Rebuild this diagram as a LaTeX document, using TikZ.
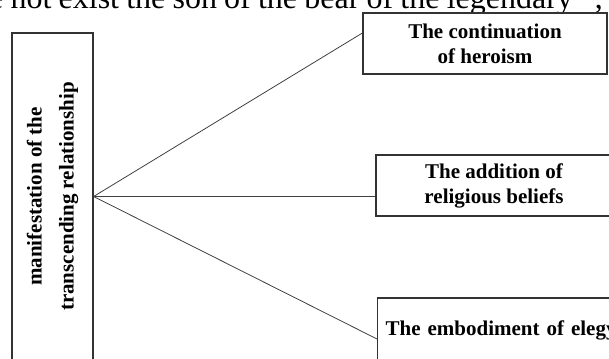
\documentclass[tikz,border=0pt]{standalone}
\usepackage{fontspec}
\setmainfont{Liberation Serif}
\usepackage{tikz}
\usetikzlibrary{calc}
\tikzset{>=stealth}
\tikzset{box/.style={draw=black!80, line width=1.2pt, fill=white, inner sep=0pt, align=center, font=\bfseries\fontsize{21}{25}\selectfont},
link/.style={draw=black!75, line width=0.8pt}}

\begin{document}
\begin{tikzpicture}[x=1pt,y=-1pt]
\useasboundingbox (0,0) rectangle (609,358);
\clip (0,0) rectangle (609,358);

% line of running text cut off at the top
\node[anchor=base west, inner sep=0pt, font=\fontsize{32}{36}\selectfont] (runtext) at (-11,9) {\makebox[614pt][s]{e not exist the son of the bear of the legendary” ;}};

\node[box, rotate=90, minimum width=327pt, minimum height=81pt, font=\bfseries\fontsize{21}{32}\selectfont] (main) at (52.5,196.5) {manifestation of the\\ transcending relationship};

\node[box, minimum width=244pt, minimum height=61pt] (heroism) at (485,43.5) {The continuation\\ of heroism};
\node[box, minimum width=236pt, minimum height=61pt] (belief) at (494,185.5) {The addition of\\ religious beliefs};
\node[box, anchor=west, minimum height=64pt, text width=240pt, inner xsep=8pt, align=left] (elegy) at (377,330) {The embodiment of elegy};

\draw[link] (main.south) -- (heroism.west|-0,33);
\draw[link] (main.south) -- (belief.west|-main.south);
\draw[link] (main.south) -- (elegy.west|-0,339);
\end{tikzpicture}
\end{document}
